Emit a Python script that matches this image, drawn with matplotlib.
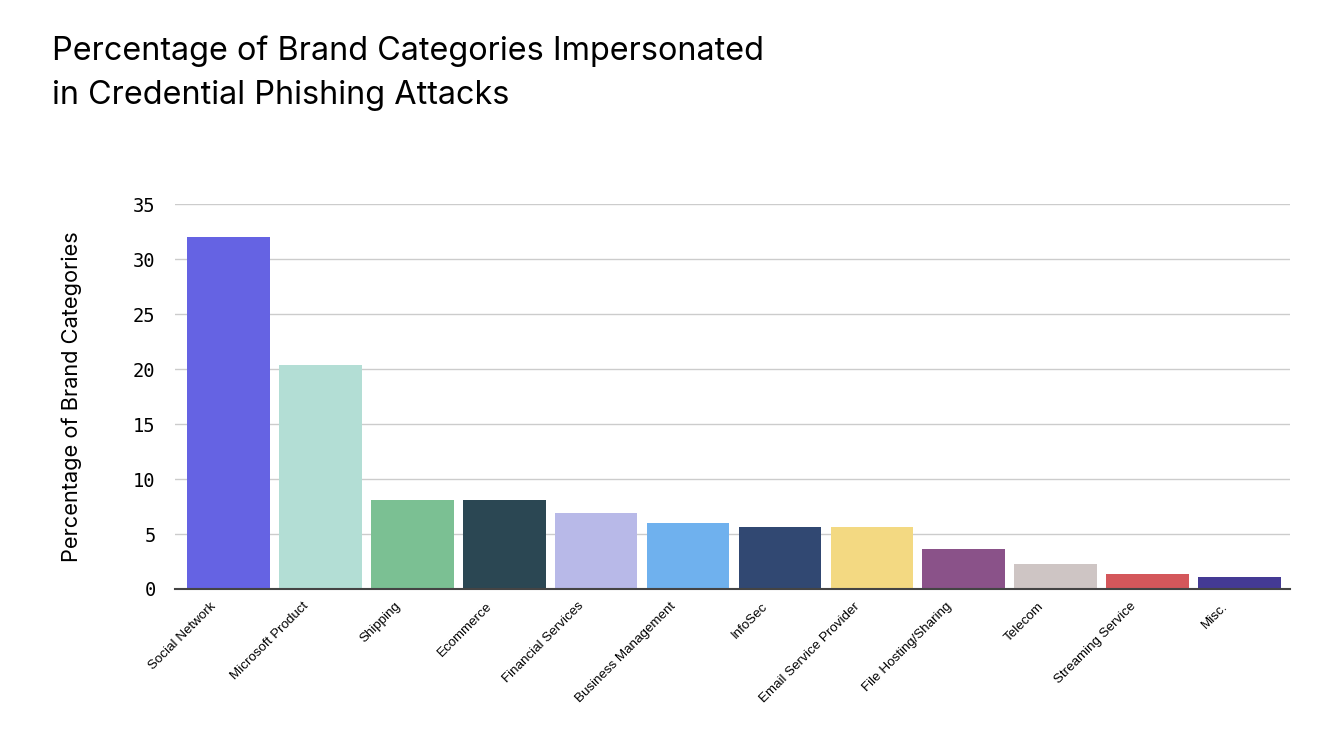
import numpy as np
import matplotlib.pyplot as plt
import matplotlib.transforms as mtransforms

categories = ["Social Network", "Microsoft Product", "Shipping", "Ecommerce",
              "Financial Services", "Business Management", "InfoSec",
              "Email Service Provider", "File Hosting/Sharing", "Telecom",
              "Streaming Service", "Misc."]
values = [32.0, 20.4, 8.1, 8.1, 6.9, 6.0, 5.6, 5.6, 3.6, 2.3, 1.4, 1.1]
colors = ["#6563E3", "#B3DED5", "#7BC093", "#2B4753", "#B8B9E8", "#6FB1EE",
          "#314872", "#F3D982", "#8A5289", "#CEC5C4", "#D4575B", "#443A94"]

fig = plt.figure(figsize=(13.26, 7.32), dpi=100)
ax = fig.add_axes([0.132, 0.1954, 0.841, 0.5256])

x = np.arange(len(categories))
ax.bar(x, values, width=0.9, color=colors, zorder=3)

ax.set_ylim(0, 35)
ax.set_xlim(-0.58, 11.55)
ax.set_yticks(range(0, 36, 5))
ax.set_yticklabels([str(v) for v in range(0, 36, 5)],
                   fontfamily="DejaVu Sans Mono", fontsize=13.5)
ax.grid(axis="y", color="#cccccc", linewidth=1, zorder=0)
ax.tick_params(axis="both", length=0)
ax.tick_params(axis="y", pad=14)

ax.set_xticks(x)
ax.set_xticklabels(categories, rotation=45, ha="right", rotation_mode="anchor",
                   fontsize=9.6, fontfamily="Liberation Sans")
ax.tick_params(axis="x", pad=8)
# nudge the rotated labels a bit to the left, like the original
shift = mtransforms.ScaledTranslation(-0.18, 0, fig.dpi_scale_trans)
for lbl in ax.get_xticklabels():
    lbl.set_transform(lbl.get_transform() + shift)

for s in ["top", "right", "left"]:
    ax.spines[s].set_visible(False)
ax.spines["bottom"].set_color("#444444")
ax.spines["bottom"].set_linewidth(1.5)
ax.spines["bottom"].set_zorder(4)

ax.set_ylabel("Percentage of Brand Categories", fontsize=15.7,
              fontfamily="Inter", labelpad=37)

fig.text(0.039, 0.952, "Percentage of Brand Categories Impersonated\nin Credential Phishing Attacks",
         fontsize=23.3, fontfamily="Inter", va="top", ha="left", linespacing=1.55)

plt.savefig("out.png", dpi=100)
